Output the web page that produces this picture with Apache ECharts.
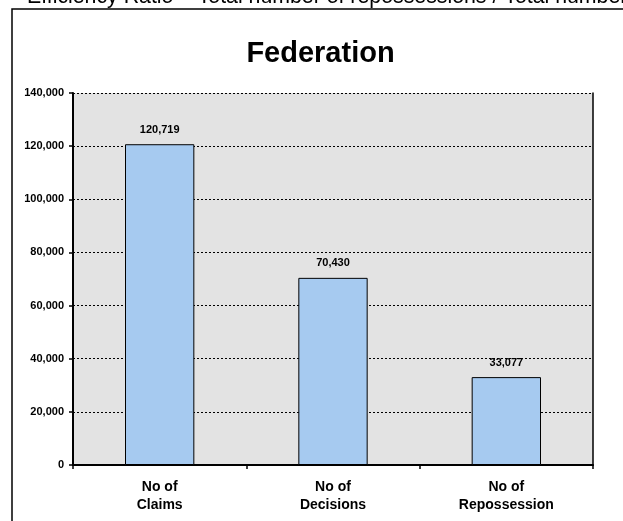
<!DOCTYPE html>
<html>
<head>
<meta charset="utf-8">
<script src="https://cdn.jsdelivr.net/npm/echarts@6/dist/echarts.min.js"></script>
<style>
html,body{margin:0;padding:0;background:#fff;}
#c{width:623px;height:521px;}
</style>
</head>
<body>
<div id="c"></div>
<script>
var categories = ['No of\nClaims', 'No of\nDecisions', 'No of\nRepossession'];
var values = [120719, 70430, 33077];
var yTicks = [0, 20000, 40000, 60000, 80000, 100000, 120000, 140000];
var chartTitle = 'Federation';
var headerText = 'Efficiency Ratio = Total number of repossessions / Total number of claims';

var FONT = '"Liberation Sans", Arial, sans-serif';
function fmt(v){ return String(v).replace(/\B(?=(\d{3})+(?!\d))/g, ','); }

var chart = echarts.init(document.getElementById('c'), null, {renderer:'canvas'});
chart.setOption({
  animation: false,
  backgroundColor: '#ffffff',
  graphic: [
    { type:'rect', shape:{x:12, y:9, width:700, height:600}, style:{fill:'none', stroke:'#000', lineWidth:1.5}, z:0 },
    { type:'text', x:27, y:-3, style:{text:headerText, font:'21.3px '+FONT, fill:'#000', verticalAlign:'middle', align:'left'} },
    { type:'text', x:320.5, y:53.5, style:{text:chartTitle, font:'bold 29px '+FONT, fill:'#000', verticalAlign:'middle', align:'center'} }
  ],
  grid: { left:73, top:93, right:30, bottom:56, show:true, backgroundColor:'#E3E3E3', borderWidth:0 },
  xAxis: {
    type:'category', data:categories, boundaryGap:true,
    axisLine:{show:true, lineStyle:{color:'#000', width:2}},
    axisTick:{show:true, inside:false, length:4, alignWithLabel:false, lineStyle:{color:'#000', width:1.5}},
    axisLabel:{fontFamily:FONT, fontWeight:'bold', fontSize:14, color:'#000', lineHeight:18, margin:13},
    splitLine:{show:false}
  },
  yAxis: [{
    type:'value', min:yTicks[0], max:yTicks[yTicks.length-1], interval:yTicks[1]-yTicks[0],
    axisLine:{show:true, lineStyle:{color:'#000', width:2}},
    axisTick:{show:true, inside:false, length:4, lineStyle:{color:'#000', width:1.5}},
    axisLabel:{fontFamily:FONT, fontWeight:'bold', fontSize:11, color:'#000', margin:9, formatter:function(v){return fmt(v);}},
    splitLine:{show:true, lineStyle:{color:'#000', width:1, type:[2,2]}}
  },{
    type:'value', position:'right', min:yTicks[0], max:yTicks[yTicks.length-1], interval:yTicks[1]-yTicks[0],
    axisLine:{show:true, lineStyle:{color:'#000', width:1.5}},
    axisTick:{show:false}, axisLabel:{show:false}, splitLine:{show:false}
  }],
  series: [{
    type:'bar', data:values, barWidth:'40%',
    itemStyle:{color:'#A6CAF0', borderColor:'#000', borderWidth:1},
    label:{show:true, position:'top', distance:9, fontFamily:FONT, fontWeight:'bold', fontSize:11, color:'#000', formatter:function(p){return fmt(p.value);}}
  }]
});
</script>
</body>
</html>
